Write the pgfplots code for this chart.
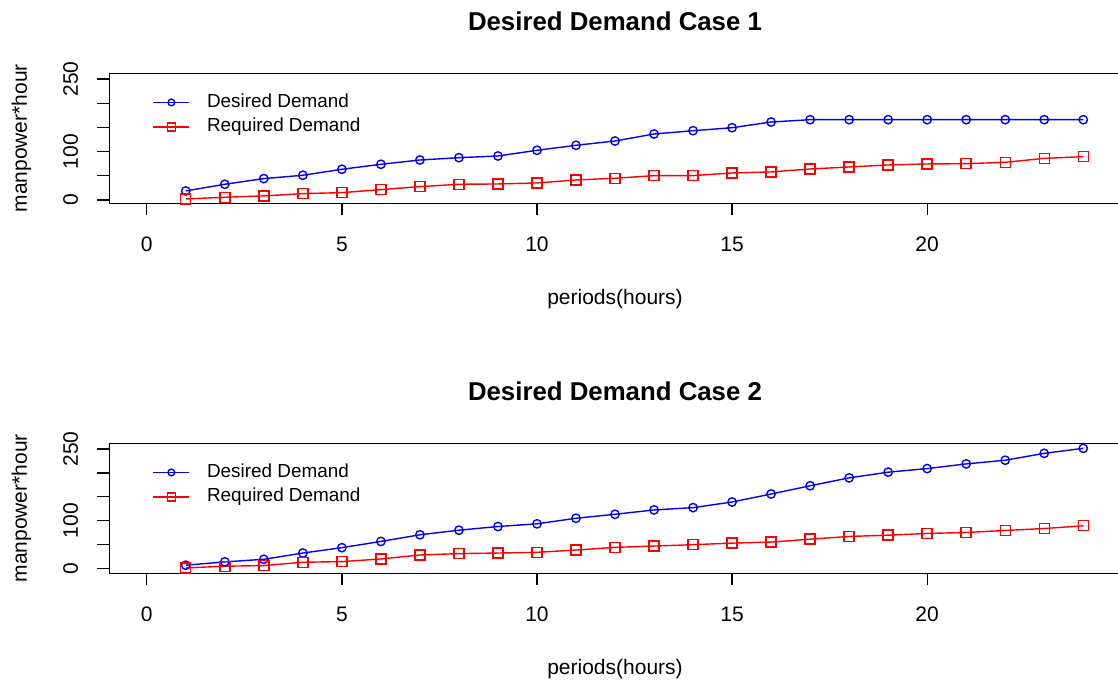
\documentclass[border=0pt]{standalone}
\usepackage{pgfplots}
\pgfplotsset{compat=1.18}
\usepackage{pgfplotstable}
\usepackage{fontspec}
\setmainfont{Liberation Sans}
\definecolor{rblue}{RGB}{0,0,255}
\definecolor{rred}{RGB}{255,0,0}

\pgfplotstableread{
x desired required
1 18.6 2.0
2 32.4 5.5
3 44.1 8.3
4 51.0 13.0
5 63.4 15.1
6 73.7 21.3
7 82.6 27.5
8 87.4 32.4
9 90.9 33.0
10 102.7 35.1
11 113.0 41.3
12 121.9 44.8
13 136.4 50.3
14 143.2 50.3
15 149.4 55.8
16 161.2 57.9
17 166.0 64.0
18 166.0 68.2
19 166.0 72.3
20 166.0 74.4
21 166.0 75.0
22 166.0 77.8
23 166.0 86.0
24 166.0 89.5
}\caseone

\pgfplotstableread{
x desired required
1 6.9 1.3
2 13.9 4.8
3 19.3 6.2
4 32.4 13.1
5 43.6 14.5
6 56.7 20.0
7 70.6 28.3
8 80.2 31.2
9 87.9 32.4
10 93.5 33.9
11 105.2 38.7
12 113.5 44.3
13 122.6 47.0
14 127.4 49.9
15 139.2 53.2
16 155.9 55.3
17 173.1 61.5
18 189.7 67.1
19 201.6 69.8
20 209.1 73.4
21 218.9 75.4
22 226.6 79.6
23 241.0 83.7
24 251.5 89.4
}\casetwo

\pgfplotsset{
  rpanel/.style={
    scale only axis, width=505.7pt, height=65pt,
    anchor=south west,
    xmin=-0.96, xmax=24.96,
    xtick={0,5,10,15,20}, xticklabels={0,5,10,15,20},
    ytick={0,50,100,150,200,250}, yticklabels={0,,100,,,250},
    tick align=outside, xtick pos=bottom, ytick pos=left,
    major tick length=6pt,
    tick style={black, line width=0.65pt},
    axis line style={black, line width=0.7pt},
    font=\fontsize{10.5}{12}\selectfont,
    xticklabel style={anchor=base, inner sep=0pt},
    xticklabel shift=18pt,
    yticklabel style={rotate=90, anchor=base, inner sep=0pt},
    yticklabel shift=9.65pt,
    every axis y label/.style={at={(axis description cs:-0.0814,0.5)}, rotate=90, anchor=base, inner sep=0pt},
    every axis x label/.style={at={(axis description cs:0.5,0)}, anchor=base, yshift=-50.6pt, inner sep=0pt},
    every axis title/.style={at={(axis description cs:0.5,1)}, anchor=base, yshift=21.3pt, inner sep=0pt, font=\fontsize{12.9}{14}\selectfont\bfseries},
    xlabel={periods(hours)},
    ylabel={manpower*hour},
    legend cell align=left,
    legend style={at={(axis description cs:0.0429,0.845)}, anchor=north west, draw=none, fill=none,
      inner sep=0pt, outer sep=0pt, row sep=3.2pt, column sep=8.5pt,
      nodes={inner sep=0pt, text height=7pt, text depth=2pt},
      font=\fontsize{9.45}{11}\selectfont},
    legend image code/.code={\draw[mark repeat=2, mark phase=2, ##1, every mark/.append style={scale=0.8}] plot coordinates {(0pt,0pt) (9pt,0pt) (18pt,0pt)};},
  },
  dline/.style={color=rblue, line width=0.7pt, mark=o, mark size=2.1pt, mark options={line width=0.7pt}},
  rline/.style={color=rred, line width=0.7pt, mark=square, mark size=2.5pt, mark options={line width=0.7pt}},
}

\begin{document}
\begin{tikzpicture}
\useasboundingbox (0,0) rectangle (559pt,340.5pt);
\begin{axis}[rpanel, at={(54.65pt,238.85pt)}, ymin=-7, ymax=262, title={Desired Demand Case 1}]
\addplot[dline] table[x=x, y=desired] {\caseone};
\addlegendentry{Desired Demand}
\addplot[rline] table[x=x, y=required] {\caseone};
\addlegendentry{Required Demand}
\end{axis}
\begin{axis}[rpanel, at={(54.65pt,53.85pt)}, ymin=-10, ymax=262, title={Desired Demand Case 2}]
\addplot[dline] table[x=x, y=desired] {\casetwo};
\addlegendentry{Desired Demand}
\addplot[rline] table[x=x, y=required] {\casetwo};
\addlegendentry{Required Demand}
\end{axis}
\end{tikzpicture}
\end{document}
